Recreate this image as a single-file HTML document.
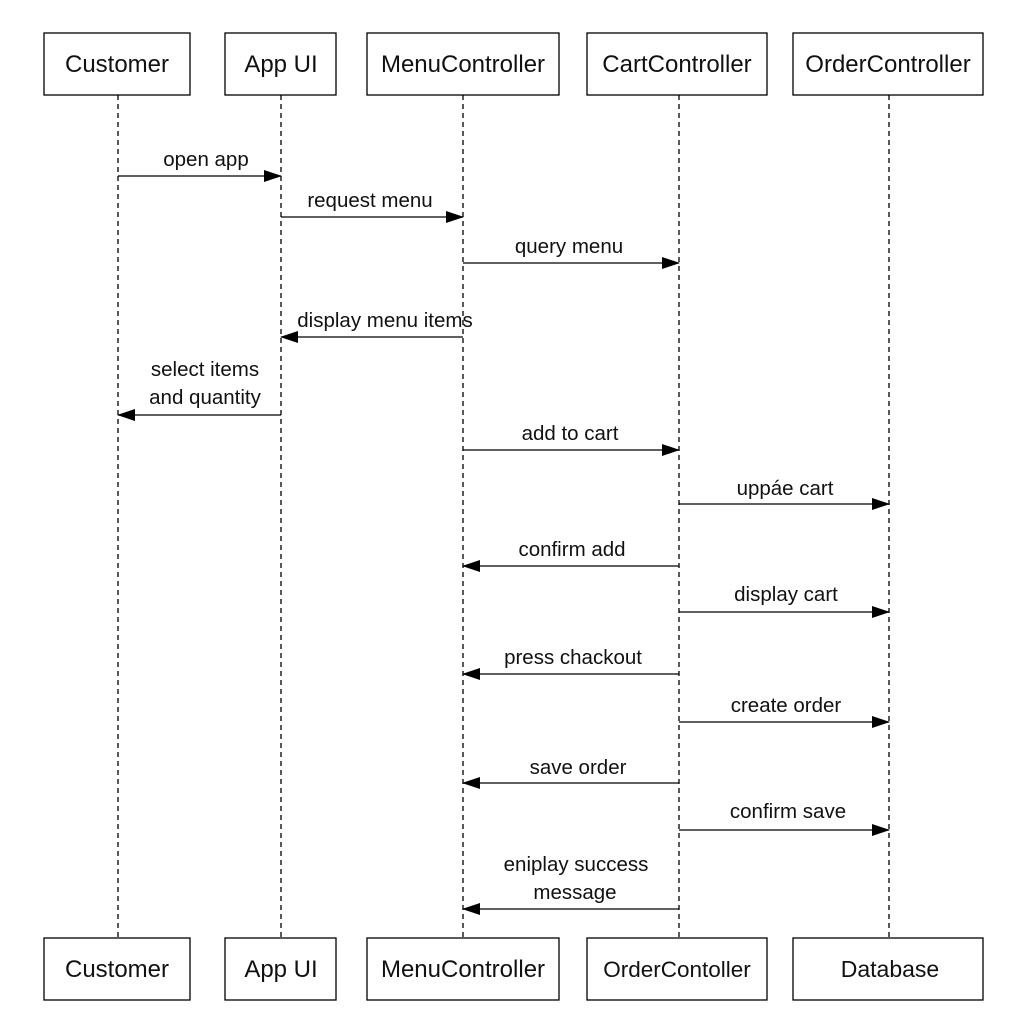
<!DOCTYPE html>
<html><head><meta charset="utf-8"><style>
body{margin:0;background:#fff}
svg text{font-family:"Liberation Sans",sans-serif;fill:#111}
</style></head><body>
<svg width="1024" height="1024" viewBox="0 0 1024 1024" xmlns="http://www.w3.org/2000/svg">
<defs><marker id="a" markerWidth="18" markerHeight="12" refX="17" refY="6" orient="auto" markerUnits="userSpaceOnUse"><path d="M0,0 L18,6 L0,12 Z" fill="#000"/></marker></defs>
<g stroke="#000" stroke-width="1.3" stroke-dasharray="5,4">
<line x1="118" y1="95" x2="118" y2="938"/>
<line x1="281" y1="95" x2="281" y2="938"/>
<line x1="463" y1="95" x2="463" y2="938"/>
<line x1="679" y1="95" x2="679" y2="938"/>
<line x1="889" y1="95" x2="889" y2="938"/>
</g>
<g fill="#fff" stroke="#000" stroke-width="1.3">
<rect x="44" y="33" width="146" height="62"/><rect x="225" y="33" width="111" height="62"/><rect x="367" y="33" width="192" height="62"/><rect x="587" y="33" width="180" height="62"/><rect x="793" y="33" width="190" height="62"/>
<rect x="44" y="938" width="146" height="62"/><rect x="225" y="938" width="111" height="62"/><rect x="367" y="938" width="192" height="62"/><rect x="587" y="938" width="180" height="62"/><rect x="793" y="938" width="190" height="62"/>
</g>
<g font-size="24" text-anchor="middle">
<text x="117" y="72">Customer</text><text x="281" y="72">App UI</text><text x="463" y="72">MenuController</text><text x="677" y="72">CartController</text><text x="888" y="72">OrderController</text>
<text x="117" y="977">Customer</text><text x="281" y="977">App UI</text><text x="463" y="977">MenuController</text><text x="677" y="977" font-size="22.5">OrderContoller</text><text x="890" y="977" font-size="23">Database</text>
</g>
<g stroke="#000" stroke-width="1.3" marker-end="url(#a)">
<line x1="118" y1="176" x2="281" y2="176"/>
<line x1="281" y1="217" x2="463" y2="217"/>
<line x1="463" y1="263" x2="679" y2="263"/>
<line x1="463" y1="337" x2="281" y2="337"/>
<line x1="281" y1="415" x2="118" y2="415"/>
<line x1="463" y1="450" x2="679" y2="450"/>
<line x1="679" y1="504" x2="889" y2="504"/>
<line x1="679" y1="566" x2="463" y2="566"/>
<line x1="679" y1="612" x2="889" y2="612"/>
<line x1="679" y1="674" x2="463" y2="674"/>
<line x1="679" y1="722" x2="889" y2="722"/>
<line x1="679" y1="783" x2="463" y2="783"/>
<line x1="679" y1="830" x2="889" y2="830"/>
<line x1="679" y1="909" x2="463" y2="909"/>
</g>
<g font-size="20.5" text-anchor="middle">
<text x="206" y="166">open app</text>
<text x="370" y="207">request menu</text>
<text x="569" y="253">query menu</text>
<text x="385" y="327">display menu items</text>
<text x="205" y="376">select items</text><text x="205" y="404">and quantity</text>
<text x="570" y="440">add to cart</text>
<text x="785" y="495">uppáe cart</text>
<text x="572" y="556">confirm add</text>
<text x="786" y="601">display cart</text>
<text x="573" y="664">press chackout</text>
<text x="786" y="712">create order</text>
<text x="578" y="774">save order</text>
<text x="788" y="818">confirm save</text>
<text x="576" y="871">eniplay success</text><text x="575" y="899">message</text>
</g>
</svg>
</body></html>
